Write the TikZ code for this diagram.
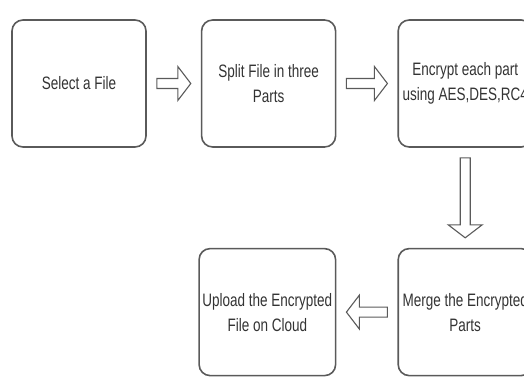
\documentclass[tikz,border=0pt]{standalone}
\usepackage{fontspec}
\setmainfont{Liberation Sans}[FakeStretch=0.75]
\usetikzlibrary{calc,positioning}
\definecolor{edgegray}{HTML}{5A5A5A}
\definecolor{textgray}{HTML}{333333}
\tikzset{%
	stepbox/.style  = {draw=edgegray, line width=1.6pt, rectangle, rounded corners=11pt, minimum width=134pt, minimum height=127pt, align=center, text=textgray, font=\fontsize{18}{25}\selectfont},
	% hollow block arrow between two nodes
	blockarrow/.style = {draw=edgegray, line width=1.1pt, to path={
		($(\tikztostart)!10pt!(\tikztotarget)$) coordinate (ba)
		($(\tikztotarget)!10pt!(\tikztostart)$) coordinate (bb)
		($(bb)!13pt!(ba)$) coordinate (bh)
		($(ba)!5pt!90:(bb)$) -- ($(bh)!5pt!90:(bb)$) -- ($(bh)!17pt!90:(bb)$) -- (bb)
		-- ($(bh)!17pt!-90:(bb)$) -- ($(bh)!5pt!-90:(bb)$) -- ($(ba)!5pt!-90:(bb)$) -- cycle}},
}

\begin{document}
\begin{tikzpicture}[x=1pt,y=1pt,node distance=54pt]
	\useasboundingbox (0,0) rectangle (524,-378);
	\clip (0,0) rectangle (524,-378);
	
	\node [stepbox] (select) at (79,-83.5) {Select a File};
	\node [stepbox] (split) [right=of select] {Split File in three\\Parts};
	\node [stepbox] (encrypt) [right=61pt of split] {Encrypt each part\\using AES,DES,RC4};
	\node [stepbox] (merge) [below=100pt of encrypt] {Merge the Encrypted\\Parts};
	\node [stepbox] (upload) [left=61pt of merge] {Upload the Encrypted\\File on Cloud};
	
	\draw [blockarrow] (select.east) to (split.west);
	\draw [blockarrow] (split.east) to (encrypt.west);
	\draw [blockarrow] (encrypt.south) to (merge.north);
	\draw [blockarrow] (merge.west) to (upload.east);
\end{tikzpicture}
\end{document}
